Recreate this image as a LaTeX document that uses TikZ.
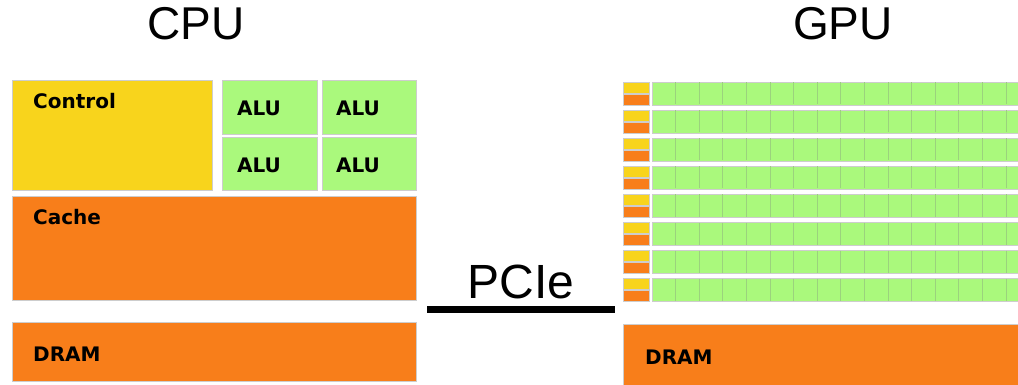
\documentclass[tikz,border=0pt]{standalone}
\usepackage{fontspec}
\setmainfont{Liberation Sans}
\newfontfamily\lblfont{DejaVu Sans}
\definecolor{ctrlY}{RGB}{248,212,28}
\definecolor{cacheO}{RGB}{248,126,26}
\definecolor{aluG}{RGB}{170,249,124}
\definecolor{edgeC}{RGB}{205,205,205}
\definecolor{cellL}{RGB}{155,210,125}
\begin{document}
\begin{tikzpicture}[x=1pt,y=-1pt,
  blk/.style={draw=edgeC, line width=0.9pt},
  lbl/.style={font=\lblfont\bfseries\fontsize{20}{20}\selectfont, anchor=base west, inner sep=0},
  ttl/.style={font=\fontsize{46}{46}\selectfont, anchor=base, inner sep=0}]
\useasboundingbox (0,0) rectangle (1018,385);
\begin{scope}
\clip (0,0) rectangle (1018,385);
% titles
\node[ttl] (cpuT) at (196,40) {CPU};
\node[ttl] (gpuT) at (843,40) {GPU};
% CPU blocks
\draw[blk, fill=ctrlY] (12,80) rectangle (212,190);
\draw[blk, fill=aluG] (222,80) rectangle (317,134);
\draw[blk, fill=aluG] (322,80) rectangle (416,134);
\draw[blk, fill=aluG] (222,137) rectangle (317,190);
\draw[blk, fill=aluG] (322,137) rectangle (416,190);
\draw[blk, fill=cacheO] (12,196) rectangle (416,300);
\draw[blk, fill=cacheO] (12,322) rectangle (416,381);
\node[lbl] (ctrlL) at (33,109) {Control};
\node[lbl] (alu1) at (237,116) {ALU};
\node[lbl] (alu2) at (336,116) {ALU};
\node[lbl] (alu3) at (237,173) {ALU};
\node[lbl] (alu4) at (336,173) {ALU};
\node[lbl] (cacheL) at (33,225) {Cache};
\node[lbl] (dramC) at (33,361) {DRAM};
% PCIe
\node[ttl, font=\fontsize{48}{48}\selectfont] (pcie) at (521,298) {PCIe};
\coordinate (pA) at (427,309);
\coordinate (pB) at (615,309);
\draw[line width=7pt] (pA) -- (pB);
% GPU rows
\foreach \i in {0,...,7}{
  \pgfmathsetmacro{\yy}{82+28*\i}
  \draw[blk, fill=ctrlY] (623,\yy) rectangle (649,\yy+11);
  \draw[blk, fill=cacheO] (623,\yy+12) rectangle (649,\yy+23);
  \draw[blk, fill=aluG] (652,\yy) rectangle (1030,\yy+23);
  \foreach \k in {1,...,16}{
    \draw[cellL, line width=0.9pt] (652+23.6*\k,\yy+0.5) -- (652+23.6*\k,\yy+22.5);
  }
}
% GPU DRAM
\draw[blk, fill=cacheO] (623,324) rectangle (1030,395);
\node[lbl] (dramG) at (645,364) {DRAM};
\end{scope}
\end{tikzpicture}
\end{document}
